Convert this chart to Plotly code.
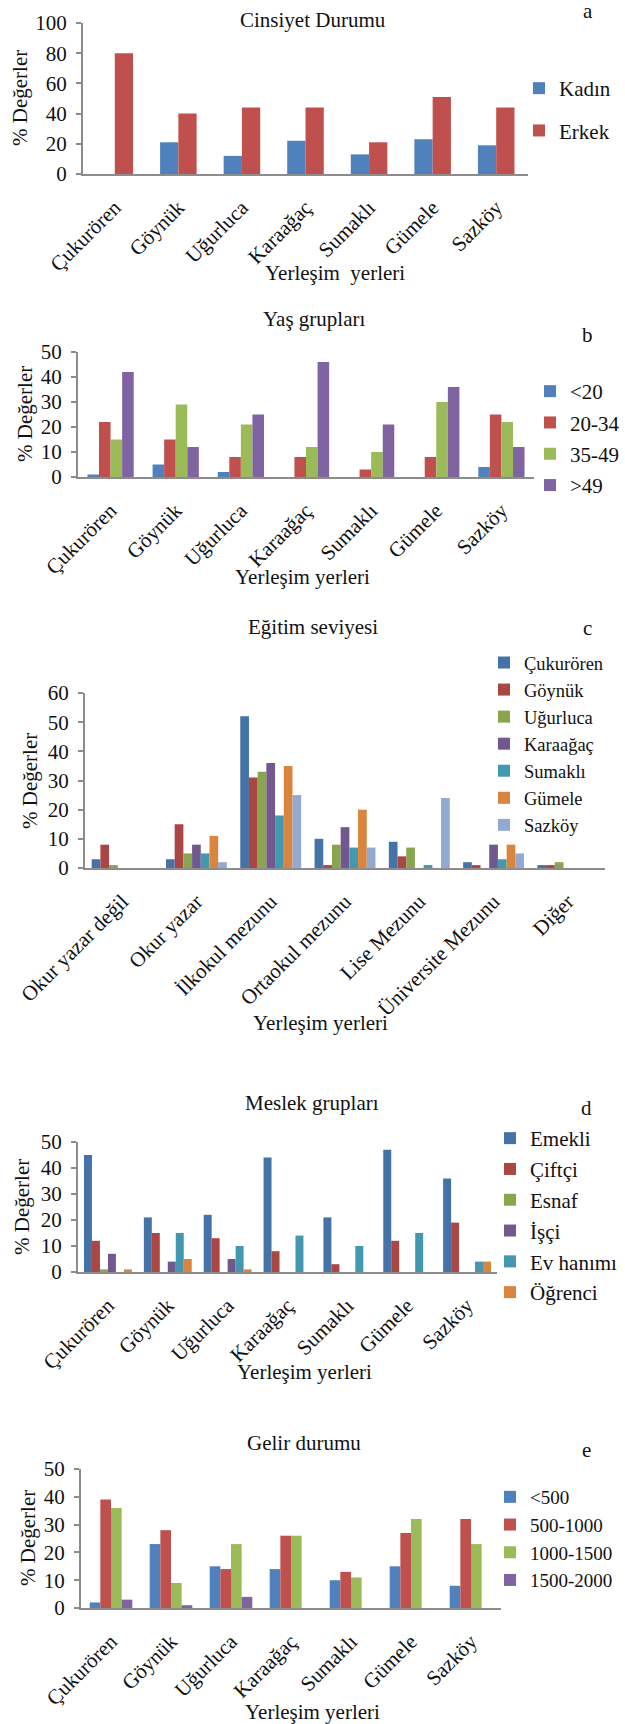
import plotly.graph_objects as go

W, H = 625, 1724
FONT = "Liberation Serif, Times New Roman, DejaVu Serif, serif"
TXT = "#111111"
AXC = "#8c8c8c"

# ---------------- data ----------------
villages = ["Çukurören", "Göynük", "Uğurluca", "Karaağaç", "Sumaklı", "Gümele", "Sazköy"]

# a) Cinsiyet Durumu
kadin = [0, 21, 12, 22, 13, 23, 19]
erkek = [80, 40, 44, 44, 21, 51, 44]

# b) Yaş grupları
age_lt20 = [1, 5, 2, 0, 0, 0, 4]
age_20_34 = [22, 15, 8, 8, 3, 8, 25]
age_35_49 = [15, 29, 21, 12, 10, 30, 22]
age_gt49 = [42, 12, 25, 46, 21, 36, 12]

# c) Eğitim seviyesi (series = villages)
edu_levels = ["Okur yazar değil", "Okur yazar", "İlkokul mezunu", "Ortaokul mezunu",
              "Lise Mezunu", "Üniversite Mezunu", "Diğer"]
edu_cukuroren = [3, 3, 52, 10, 9, 2, 1]
edu_goynuk = [8, 15, 31, 1, 4, 1, 1]
edu_ugurluca = [1, 5, 33, 8, 7, 0, 2]
edu_karaagac = [0, 8, 36, 14, 0, 8, 0]
edu_sumakli = [0, 5, 18, 7, 1, 3, 0]
edu_gumele = [0, 11, 35, 20, 0, 8, 0]
edu_sazkoy = [0, 2, 25, 7, 24, 5, 0]

# d) Meslek grupları
emekli = [45, 21, 22, 44, 21, 47, 36]
ciftci = [12, 15, 13, 8, 3, 12, 19]
esnaf = [1, 0, 0, 0, 0, 0, 0]
isci = [7, 4, 5, 0, 0, 0, 0]
ev_hanimi = [0, 15, 10, 14, 10, 15, 4]
ogrenci = [1, 5, 1, 0, 0, 0, 4]

# e) Gelir durumu
inc_lt500 = [2, 23, 15, 14, 10, 15, 8]
inc_500_1000 = [39, 28, 14, 26, 13, 27, 32]
inc_1000_1500 = [36, 9, 23, 26, 11, 32, 23]
inc_1500_2000 = [3, 1, 4, 0, 0, 0, 0]

C2010 = ["#4F81BD", "#C0504D", "#9BBB59", "#8064A2"]
C2007 = ["#4572A7", "#AA4643", "#89A54E", "#71588F", "#4198AF", "#DB843D", "#93A9CF"]

charts = [
    dict(cats=villages, series=[("Kadın", kadin), ("Erkek", erkek)], colors=C2010,
         box=(83, 528, 23, 174), ymax=100, dtick=20, group=0.575,
         title="Cinsiyet Durumu", title_xy=(313, 20), letter="a", letter_xy=(588, 11),
         xtitle="Yerleşim\u00a0\u00a0yerleri", xtitle_xy=(335, 273), ytitle_xy=(20, 98),
         leg=(519, 68), leg_gap=12, leg_font=21),
    dict(cats=villages, series=[("<20", age_lt20), ("20-34", age_20_34), ("35-49", age_35_49), (">49", age_gt49)],
         colors=C2010, box=(78, 534, 352, 477), ymax=50, dtick=10, group=0.71,
         title="Yaş grupları", title_xy=(314, 319), letter="b", letter_xy=(587, 335),
         xtitle="Yerleşim yerleri", xtitle_xy=(302, 577), ytitle_xy=(25, 414),
         leg=(530, 371), leg_gap=1, leg_font=21),
    dict(cats=edu_levels, series=[("Çukurören", edu_cukuroren), ("Göynük", edu_goynuk),
                                  ("Uğurluca", edu_ugurluca), ("Karaağaç", edu_karaagac),
                                  ("Sumaklı", edu_sumakli), ("Gümele", edu_gumele), ("Sazköy", edu_sazkoy)],
         colors=C2007, box=(85, 605, 693, 868), ymax=60, dtick=10, group=0.82,
         title="Eğitim seviyesi", title_xy=(313, 627), letter="c", letter_xy=(587, 628),
         xtitle="Yerleşim yerleri", xtitle_xy=(320, 1023), ytitle_xy=(30, 781),
         leg=(484, 644), leg_gap=0, leg_font=18.5),
    dict(cats=villages, series=[("Emekli", emekli), ("Çiftçi", ciftci), ("Esnaf", esnaf),
                                ("İşçi", isci), ("Ev hanımı", ev_hanimi), ("Öğrenci", ogrenci)],
         colors=C2007, box=(78, 497, 1142, 1272), ymax=50, dtick=10, group=0.80,
         title="Meslek grupları", title_xy=(312, 1103), letter="d", letter_xy=(586, 1108),
         xtitle="Yerleşim yerleri", xtitle_xy=(304, 1372), ytitle_xy=(22, 1207),
         leg=(490, 1118), leg_gap=0.5, leg_font=21),
    dict(cats=villages, series=[("<500", inc_lt500), ("500-1000", inc_500_1000),
                                ("1000-1500", inc_1000_1500), ("1500-2000", inc_1500_2000)],
         colors=C2010, box=(81, 501, 1469, 1608), ymax=50, dtick=10, group=0.71,
         title="Gelir durumu", title_xy=(304, 1443), letter="e", letter_xy=(586, 1450),
         xtitle="Yerleşim yerleri", xtitle_xy=(312, 1712), ytitle_xy=(28, 1538),
         leg=(490, 1478), leg_gap=0, leg_font=19),
]


def px(x):
    return x / W


def py(y):
    return 1 - y / H


fig = go.Figure()
layout = dict(width=W, height=H, margin=dict(l=0, r=0, t=0, b=0, autoexpand=False),
              paper_bgcolor="white", plot_bgcolor="white", barmode="overlay",
              font=dict(family=FONT, size=21, color=TXT), annotations=[])

for k, ch in enumerate(charts, start=1):
    sfx = "" if k == 1 else str(k)
    xa, ya = "x" + sfx, "y" + sfx
    lg = "legend" + sfx
    n = len(ch["series"])
    bw = ch["group"] / n
    for i, (name, vals) in enumerate(ch["series"]):
        fig.add_trace(go.Bar(
            x=ch["cats"], y=vals, name=name, marker_color=ch["colors"][i],
            marker_line=dict(width=0),
            width=bw, offset=-ch["group"] / 2 + i * bw,
            xaxis=xa, yaxis=ya, legend=lg, legendgroup=f"g{k}_{i}",
            hovertemplate="%{x}: %{y}<extra>" + name + "</extra>"))
    x0, x1, y0, y1 = ch["box"]
    layout["xaxis" + sfx] = dict(
        domain=[px(x0), px(x1)], anchor=ya, type="category", automargin=False,
        showline=True, linecolor=AXC, linewidth=2, ticks="", showgrid=False,
        tickangle=-45, tickfont=dict(family=FONT, size=21, color=TXT),
        ticklabelstandoff=11, fixedrange=True)
    layout["yaxis" + sfx] = dict(
        domain=[py(y1), py(y0)], anchor=xa, range=[0, ch["ymax"]], dtick=ch["dtick"],
        automargin=False,
        showline=True, linecolor=AXC, linewidth=2, ticks="outside", ticklen=5,
        tickcolor=AXC, tickwidth=1.5, showgrid=False, zeroline=False,
        tickfont=dict(family=FONT, size=21, color=TXT), ticklabelstandoff=5, fixedrange=True)
    lx, ly = ch["leg"]
    layout[lg] = dict(x=px(lx), y=py(ly), xanchor="left", yanchor="top",
                      font=dict(family=FONT, size=ch["leg_font"], color=TXT),
                      bgcolor="rgba(0,0,0,0)", tracegroupgap=ch["leg_gap"],
                      traceorder="grouped", itemwidth=30)
    tx, ty = ch["title_xy"]
    layout["annotations"].append(dict(text=ch["title"], x=px(tx), y=py(ty), xref="paper", yref="paper",
                                      xanchor="center", yanchor="middle", showarrow=False,
                                      font=dict(family=FONT, size=21, color=TXT)))
    lx2, ly2 = ch["letter_xy"]
    layout["annotations"].append(dict(text=ch["letter"], x=px(lx2), y=py(ly2), xref="paper", yref="paper",
                                      xanchor="center", yanchor="middle", showarrow=False,
                                      font=dict(family=FONT, size=21, color=TXT)))
    xtx, xty = ch["xtitle_xy"]
    layout["annotations"].append(dict(text=ch["xtitle"], x=px(xtx), y=py(xty), xref="paper", yref="paper",
                                      xanchor="center", yanchor="middle", showarrow=False,
                                      font=dict(family=FONT, size=21, color=TXT)))
    ytx, yty = ch["ytitle_xy"]
    layout["annotations"].append(dict(text="% Değerler", x=px(ytx), y=py(yty), xref="paper", yref="paper",
                                      xanchor="center", yanchor="middle", showarrow=False, textangle=-90,
                                      font=dict(family=FONT, size=21, color=TXT)))

fig.update_layout(**layout)
fig.write_html("out.html", config={"displayModeBar": False},
               post_script="document.body.style.margin='0';document.body.style.overflow='hidden';")
